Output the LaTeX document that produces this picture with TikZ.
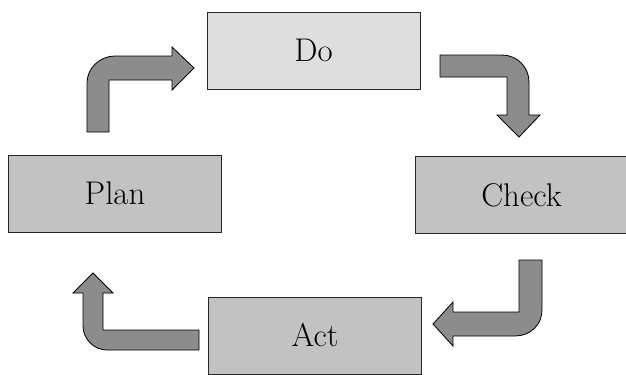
\documentclass[tikz,border=0pt]{standalone}
\begin{document}
\begin{tikzpicture}[x=0.3mm, y=-0.3mm,
		stage/.style={draw=black!85, line width=0.6pt, minimum width=213*0.3mm, minimum height=77*0.3mm, inner sep=0pt, font=\fontsize{28}{32}\selectfont},
		bent/.style={draw=black, line width=0.7pt, fill=black!45}]
		\useasboundingbox (0,0) rectangle (626,374);
		\clip (0,0) rectangle (626,374);
		% the four stages
		\node[stage, fill=black!13] (do) at (313.5,50.5) {Do};
		\node[stage, fill=black!24] (plan) at (115,193.5) {Plan};
		\node[stage, fill=black!24] (check) at (521.5,195) {Check};
		\node[stage, fill=black!24] (act) at (315,335.5) {Act};
		% plan -> do
		\draw[bent] (87,132) -- (87,83) .. controls (87,68) and (100,56) .. (115,56) -- (172,56) -- (172,47) -- (194,68) -- (172,90) -- (172,80) -- (109,80) -- (109,132) -- cycle;
		% do -> check
		\draw[bent] (440,55) -- (502,55) .. controls (517,55) and (529,67) .. (529,82) -- (529,115) -- (540,115) -- (519,137) -- (497,115) -- (507,115) -- (507,77) -- (440,77) -- cycle;
		% check -> act
		\draw[bent] (519,260) -- (542,260) -- (542,310) .. controls (542,325) and (530,336) .. (515,336) -- (453,336) -- (453,346) -- (433,324) -- (453,302) -- (453,312) -- (519,312) -- cycle;
		% act -> plan
		\draw[bent] (199,330) -- (103,330) -- (103,293) -- (113,293) -- (93,273) -- (73,293) -- (83,293) -- (83,326) .. controls (83,339) and (94,350) .. (107,350) -- (199,350) -- cycle;
	\end{tikzpicture}
\end{document}
